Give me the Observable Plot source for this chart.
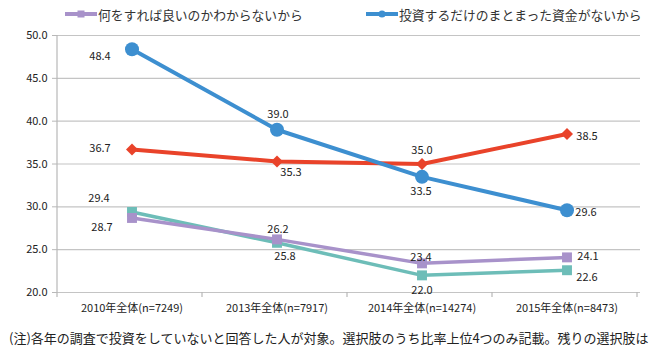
<!DOCTYPE html>
<html><head><meta charset="utf-8">
<script src="https://cdn.jsdelivr.net/npm/d3@7"></script>
<script src="https://cdn.jsdelivr.net/npm/@observablehq/plot@0.6"></script>
<style>
body{margin:0;background:#fff;width:660px;height:350px;overflow:hidden;font-family:'Noto Sans CJK JP',sans-serif;}
#legend{height:24px;position:relative;font-size:12.8px;color:#333;}
.item{position:absolute;top:5px;height:18px;display:flex;align-items:center;white-space:nowrap;}
.item svg{margin-right:1px}
#chart{height:300px}
#chart svg text{font-size:11px;fill:#222}
#caption{font-size:13px;white-space:nowrap;overflow:hidden;margin-left:9px;line-height:20px;margin-top:4px;color:#222}
</style></head>
<body>
<div id="legend"></div>
<div id="chart"></div>
<div id="caption"></div>
<script>
// ---- data ----
const categories = ["2010年全体(n=7249)", "2013年全体(n=7917)", "2014年全体(n=14274)", "2015年全体(n=8473)"];
const seriesNames = ["何をすれば良いのかわからないから", "投資するだけのまとまった資金がないから", "系列3", "系列4"];
const purpleValues = [28.7, 26.2, 23.4, 24.1];
const blueValues = [48.4, 39.0, 33.5, 29.6];
const redValues = [36.7, 35.3, 35.0, 38.5];
const tealValues = [29.4, 25.8, 22.0, 22.6];
const yTicks = [20, 25, 30, 35, 40, 45, 50];
const captionText = "(注)各年の調査で投資をしていないと回答した人が対象。選択肢のうち比率上位4つのみ記載。残りの選択肢は";

// ---- styling / layout ----
const labelOffsets = {
  teal:   [[-33, -14], [8, 14], [0, 15], [20, 7]],
  purple: [[-30, 9], [1, -10], [-1, -6], [21, -1]],
  red:    [[-32, -1], [14, 11], [0, -14], [20, 2]],
  blue:   [[-32, 7], [1, -15], [-1, 15], [19, 2]]
};
const diamond = d3.symbolDiamond2 || "diamond";
const series = [
  {key: "teal", name: seriesNames[3], values: tealValues, color: "#6dbdb8", width: 3.5, symbol: "square", r: 5.6},
  {key: "purple", name: seriesNames[0], values: purpleValues, color: "#a892ca", width: 3.5, symbol: "square", r: 5.6},
  {key: "red", name: seriesNames[2], values: redValues, color: "#e9432a", width: 4, symbol: diamond, r: 5.4},
  {key: "blue", name: seriesNames[1], values: blueValues, color: "#3d8fd0", width: 4, symbol: "circle", r: 7}
];
series.forEach(s => s.rows = categories.map((c, i) => ({cat: c, value: s.values[i], idx: i})));

const marks = [Plot.ruleY(yTicks, {stroke: "#c4c4c4", strokeWidth: 1.2})];
for (const s of series) {
  marks.push(Plot.line(s.rows, {x: "cat", y: "value", stroke: s.color, strokeWidth: s.width}));
  marks.push(Plot.dot(s.rows, {x: "cat", y: "value", fill: s.color, stroke: "none", symbol: s.symbol, r: s.r}));
}
for (const s of series) {
  s.rows.forEach((d, i) => {
    const [dx, dy] = labelOffsets[s.key][i];
    marks.push(Plot.text([d], {x: "cat", y: "value", text: v => v.value.toFixed(1), dx, dy, fill: "#222"}));
  });
}

const plot = Plot.plot({
  width: 660, height: 300,
  marginTop: 11, marginBottom: 32, marginLeft: 57, marginRight: 20,
  style: {fontFamily: "'Noto Sans CJK JP', sans-serif", fontSize: "11px", color: "#222", background: "#fff", overflow: "visible"},
  x: {type: "band", domain: categories, padding: 0, label: null, tickSize: 0, tickPadding: 12},
  y: {domain: [20, 50], ticks: yTicks, tickFormat: d => d.toFixed(1), tickSize: 5, tickPadding: 5, label: null},
  marks
});
document.getElementById("chart").appendChild(plot);

// axis line on left and band-boundary ticks on bottom, derived from the scales
const xs = plot.scale("x"), ys = plot.scale("y");
const [x0, x1] = xs.range;
const step = xs.step || (x1 - x0) / categories.length;
const yb = ys.range[0], yt = ys.range[1];
const g = d3.select(plot).append("g").attr("stroke", "#b8b8b8").attr("stroke-width", 1.2);
g.append("line").attr("x1", x0).attr("x2", x0).attr("y1", yt).attr("y2", yb);
for (let i = 0; i <= categories.length; i++) {
  const x = x0 + i * step;
  g.append("line").attr("x1", x).attr("x2", x).attr("y1", yb).attr("y2", yb + 5);
}
d3.select(plot).selectAll("[aria-label='y-axis'] line, [aria-label='y-axis tick'] line, [aria-label='y-axis tick'] path").attr("stroke", "#b8b8b8");

// legend
const legend = document.getElementById("legend");
[[series[1], 65], [series[3], 366]].forEach(([s, left]) => {
  const item = document.createElement("div");
  item.className = "item";
  item.style.left = left + "px";
  const mk = s.symbol === "circle"
    ? `<circle cx="16" cy="6" r="3.6" fill="${s.color}"/>`
    : `<rect x="12.5" y="2.5" width="7" height="7" fill="${s.color}"/>`;
  item.innerHTML = `<svg width="32" height="12"><line x1="0" x2="32" y1="6" y2="6" stroke="${s.color}" stroke-width="4"/>${mk}</svg><span>${s.name}</span>`;
  legend.appendChild(item);
});
document.getElementById("caption").textContent = captionText;
</script>
</body></html>
